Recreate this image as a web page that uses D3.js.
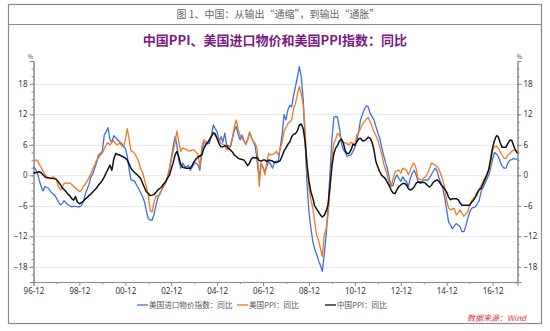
<!DOCTYPE html>
<html><head><meta charset="utf-8">
<script src="https://cdn.jsdelivr.net/npm/d3@7"></script>
<style>
body{margin:0;background:#fff;}
svg{display:block;font-family:"Noto Sans CJK SC","Noto Sans",sans-serif;}
</style></head><body>
<svg id="chart" width="550" height="331"></svg>
<script>
// Monthly year-on-year changes (%), first value = 1996-12, last value = 2018-01
const usImport = [
  1.7,
  1.2, 0.5, -0.9, -2.2, -3.1, -2.2, -2.4, -2.6, -3.2, -3.6, -3.9, -4.5,      // 1997
  -5.2, -5.8, -5.6, -5.0, -5.4, -5.8, -6.0, -6.2, -6.1, -6.1, -6.2, -6.2,    // 1998
  -6.0, -5.3, -3.9, -2.8, -1.9, -0.3, 0.2, 1.4, 2.5, 4.0, 4.3, 4.7,          // 1999
  7.9, 8.6, 9.4, 7.0, 6.5, 7.8, 7.4, 7.0, 6.6, 6.3, 5.8, 5.3,                // 2000
  3.8, 1.0, -0.9, -1.0, -1.2, -2.0, -2.6, -3.4, -4.2, -5.2, -7.0, -8.5,      // 2001
  -8.8, -8.8, -7.8, -6.0, -4.5, -3.6, -2.9, -2.2, -1.6, -0.3, 1.2, 3.3,      // 2002
  5.6, 7.6, 6.0, 3.0, 1.4, 2.4, 1.8, 1.7, 2.0, 1.0, 1.6, 2.4,                // 2003
  2.4, 2.0, 1.0, 4.5, 6.6, 6.3, 6.2, 6.3, 7.9, 9.9, 9.2, 8.6,                // 2004
  6.6, 7.6, 6.5, 8.3, 6.0, 5.8, 5.6, 7.2, 8.9, 9.6, 8.0, 7.0,                // 2005
  7.9, 6.8, 6.3, 7.0, 8.5, 7.4, 6.6, 5.6, 2.5, -0.6, 2.4, 1.5,               // 2006
  0.7, 1.8, 2.7, 2.2, 1.4, 2.6, 2.8, 2.7, 5.5, 8.0, 12.0, 10.9,              // 2007
  12.9, 13.8, 13.5, 15.8, 17.5, 19.4, 21.4, 19.4, 14.8, 6.6, -1.9, -7.2,     // 2008
  -10.5, -13.0, -14.5, -15.5, -16.7, -17.7, -18.9, -15.5, -11.8, -6.0, 0.5, 7.0, // 2009
  11.4, 11.6, 11.4, 9.2, 6.3, 5.0, 4.6, 3.7, 3.9, 4.0, 4.7, 5.5,             // 2010
  7.0, 8.6, 10.9, 12.0, 13.0, 13.7, 13.5, 12.2, 11.5, 10.9, 9.6, 8.4,        // 2011
  7.3, 5.5, 4.0, 2.6, 1.4, -0.5, -2.2, -2.0, -0.6, 0.1, -0.6, -1.2,          // 2012
  -0.3, -1.0, -1.2, -2.2, -0.6, 0.4, 1.0, 0.1, -1.2, -1.3, -1.2, -1.0,       // 2013
  -0.9, -1.0, -0.5, 0.1, 0.8, 1.4, 0.9, -0.6, -1.5, -2.6, -4.5, -6.8,        // 2014
  -9.2, -9.8, -10.5, -10.0, -9.5, -9.8, -10.1, -11.1, -11.1, -10.0, -8.5, -7.3, // 2015
  -6.5, -6.3, -6.2, -5.6, -5.0, -3.2, -2.4, -1.6, -0.7, 0.1, 1.5, 3.2,       // 2016
  4.5, 4.2, 3.7, 2.7, 1.8, 1.4, 1.4, 2.4, 3.0, 3.1, 3.3, 3.2,                // 2017
  3.2                                                                         // 2018
];
const usPPI = [
  2.6,
  3.0, 3.0, 2.2, 1.6, 0.8, 0.2, -0.3, -0.5, -0.7, -0.3, -0.4, -0.9,          // 1997
  -2.2, -2.9, -2.4, -1.6, -1.5, -1.6, -1.5, -1.8, -2.2, -2.5, -2.9, -3.2,    // 1998
  -3.0, -2.2, -1.8, -1.2, -0.5, 0.2, 1.2, 2.0, 3.0, 3.4, 4.0, 4.4,           // 1999
  5.2, 6.0, 6.4, 6.0, 6.5, 6.8, 6.2, 6.0, 6.4, 5.9, 5.5, 7.0,                // 2000
  9.2, 7.0, 4.8, 4.6, 4.3, 3.5, 2.7, 1.3, 0.6, -0.8, -2.3, -4.0,             // 2001
  -7.0, -7.2, -5.3, -4.2, -4.0, -3.9, -3.0, -2.2, -1.4, -0.6, 1.0, 3.0,      // 2002
  4.7, 6.5, 8.7, 6.6, 4.7, 5.4, 5.2, 5.1, 4.8, 4.8, 5.0, 5.0,                // 2003
  4.5, 4.2, 1.5, 5.5, 7.0, 6.8, 6.3, 7.0, 7.9, 8.3, 7.8, 7.3,                // 2004
  6.8, 6.3, 6.1, 6.0, 5.0, 5.3, 6.0, 7.4, 9.6, 10.9, 9.0, 7.9,               // 2005
  7.2, 6.8, 6.0, 6.9, 8.5, 7.4, 6.6, 6.2, 5.0, -2.2, 2.4, 1.6,               // 2006
  0.1, 2.8, 4.3, 4.0, 4.1, 4.3, 4.7, 4.0, 5.2, 6.6, 8.6, 9.4,                // 2007
  10.2, 10.5, 10.9, 13.2, 14.2, 16.0, 17.5, 16.0, 13.8, 9.0, 1.0, -2.5,      // 2008
  -4.8, -6.5, -9.1, -11.8, -12.7, -14.4, -16.0, -11.8, -10.5, -7.8, -2.6, 3.3, // 2009
  6.3, 7.2, 8.3, 7.8, 7.2, 6.5, 6.4, 6.2, 6.0, 6.5, 6.3, 6.1,                // 2010
  7.9, 8.5, 9.2, 10.0, 10.6, 11.0, 11.4, 10.6, 9.6, 8.6, 7.8, 7.0,           // 2011
  5.5, 4.2, 2.4, 1.2, 0.1, -1.8, -2.2, -0.6, 0.7, 0.9, 1.0, 0.4,             // 2012
  1.4, 1.2, 1.0, 0.1, 1.0, 2.0, 2.4, 1.4, -0.6, -0.8, -0.9, -0.5,            // 2013
  -0.3, 0.4, 1.2, 2.4, 2.2, 2.0, 1.7, 1.2, 0.1, -1.0, -2.6, -5.0,            // 2014
  -6.4, -6.8, -6.6, -6.5, -7.8, -7.4, -6.8, -7.5, -8.1, -7.6, -7.2, -5.8,    // 2015
  -5.0, -4.5, -4.2, -3.9, -2.8, -2.0, -1.2, -0.5, 0.2, 1.0, 2.2, 5.0,        // 2016
  5.6, 5.8, 5.3, 4.6, 4.0, 3.4, 3.3, 4.0, 4.3, 4.7, 4.9, 5.0,                // 2017
  4.7                                                                         // 2018
];
const cnPPI = [
  0.4,
  0.5, 0.6, 0.7, 0.5, 0.1, -0.3, -0.5, -0.5, -0.6, -0.6, -0.7, -0.8,         // 1997
  -1.3, -1.8, -2.4, -2.8, -3.2, -3.7, -4.0, -4.6, -4.9, -4.2, -5.3, -5.6,    // 1998
  -5.4, -5.1, -4.7, -4.4, -4.0, -3.7, -3.3, -2.9, -2.5, -1.9, -1.5, -1.0,    // 1999
  -0.3, 0.5, 1.2, 2.0, 1.0, 3.2, 4.3, 4.1, 4.0, 3.8, 3.6, 3.4,               // 2000
  3.0, 2.2, 1.4, 0.9, 0.5, 0.2, -0.2, -0.6, -1.5, -2.4, -3.2, -3.6,          // 2001
  -4.0, -3.9, -3.8, -3.4, -2.9, -2.6, -2.3, -1.7, -1.3, -0.6, 0.0, 1.2,      // 2002
  2.5, 4.0, 4.7, 3.6, 2.2, 1.6, 1.5, 1.4, 1.4, 1.4, 2.0, 2.7,                // 2003
  3.2, 3.6, 3.8, 4.0, 5.2, 6.0, 6.4, 7.0, 7.6, 8.4, 8.1, 7.2,                // 2004
  6.2, 5.6, 5.6, 5.8, 5.7, 5.3, 5.0, 4.6, 4.0, 3.7, 3.4, 3.2,                // 2005
  3.1, 3.0, 2.5, 1.9, 2.4, 3.3, 3.5, 3.4, 3.5, 2.9, 2.8, 3.0,                // 2006
  3.0, 2.7, 3.0, 2.9, 2.8, 2.5, 2.5, 2.7, 2.9, 3.8, 4.8, 5.4,                // 2007
  6.1, 6.6, 7.6, 8.1, 8.2, 8.8, 9.9, 10.1, 9.1, 6.6, 2.0, -1.1,              // 2008
  -3.3, -4.5, -6.0, -6.6, -7.2, -7.8, -8.2, -7.9, -7.0, -5.8, -2.1, 1.7,     // 2009
  4.3, 5.4, 5.9, 6.8, 7.1, 6.4, 4.8, 4.3, 4.3, 5.0, 6.1, 5.9,                // 2010
  6.6, 7.2, 7.3, 6.8, 6.8, 7.1, 7.5, 7.3, 6.5, 5.0, 2.7, 1.7,                // 2011
  0.7, 0.0, -0.3, -0.7, -1.4, -2.1, -2.9, -3.5, -3.6, -2.8, -2.2, -1.9,      // 2012
  -1.6, -1.6, -1.9, -2.6, -2.9, -2.7, -2.3, -1.6, -1.3, -1.5, -1.4, -1.4,    // 2013
  -1.6, -2.0, -2.3, -2.0, -1.4, -1.1, -0.9, -1.2, -1.8, -2.2, -2.7, -3.3,    // 2014
  -4.3, -4.8, -4.6, -4.6, -4.6, -4.8, -5.4, -5.9, -5.9, -5.9, -5.9, -5.9,    // 2015
  -5.3, -4.9, -4.3, -3.4, -2.8, -2.6, -1.7, -0.8, 0.1, 1.2, 3.3, 5.5,        // 2016
  6.9, 7.8, 7.6, 6.4, 5.5, 5.5, 5.5, 6.3, 6.9, 6.9, 5.8, 4.9,                // 2017
  4.3                                                                         // 2018
];

const seriesNames = ["美国进口物价指数：同比", "美国PPI：同比", "中国PPI：同比"];
const seriesColors = ["#3d6fe0", "#f07a22", "#111111"];
const yTicks = [-18, -12, -6, 0, 6, 12, 18];
const xTickYears = d3.range(1996, 2017, 2);   // labelled December ticks
const xMinorYears = d3.range(1997, 2018, 2);

const svg = d3.select("#chart");

// outer frame and caption bar
svg.append("rect").attr("x", 8.5).attr("y", 4.5).attr("width", 533).attr("height", 319)
  .attr("fill", "#fff").attr("stroke", "#8a8a8a").attr("stroke-width", 1.2);
svg.append("line").attr("x1", 8.5).attr("x2", 541.5).attr("y1", 24.5).attr("y2", 24.5)
  .attr("stroke", "#8a8a8a").attr("stroke-width", 1);
svg.append("text").attr("x", 278).attr("y", 18).attr("text-anchor", "middle")
  .attr("font-size", 10).attr("fill", "#666")
  .text("图 1、中国：从输出“通缩”，到输出“通胀”");

svg.append("text").attr("x", 275).attr("y", 45).attr("text-anchor", "middle")
  .attr("font-size", 13).attr("font-weight", "bold").attr("fill", "#7b1a82")
  .text("中国PPI、美国进口物价和美国PPI指数：同比");

const x0 = 33.5, x1 = 517.5, yTop = 61, yBot = 282;
const start = new Date(1996, 11, 1);
const dates = usImport.map((_, i) => d3.timeMonth.offset(start, i));
const x = d3.scaleTime().domain([start, dates[dates.length - 1]]).range([x0, x1]);
const y = d3.scaleLinear().domain([-21, 22.5]).range([yBot, yTop]);

// grid
svg.append("g").selectAll("line").data(yTicks).join("line")
  .attr("x1", x0).attr("x2", x1).attr("y1", d => Math.round(y(d)) + 0.5).attr("y2", d => Math.round(y(d)) + 0.5)
  .attr("stroke", "#ececec").attr("stroke-width", 1);

const axisColor = "#8a8a8a";
function styleAxis(g) {
  g.selectAll(".domain").attr("stroke", axisColor);
  g.selectAll(".tick line").attr("stroke", axisColor);
  g.selectAll(".tick text").attr("fill", "#333").attr("font-size", 8)
    .attr("font-family", "'Noto Sans','Noto Sans CJK SC',sans-serif");
}
const minorY = d3.range(-21, 22.51, 1.5);

const gl = svg.append("g").attr("transform", `translate(${x0},0)`)
  .call(d3.axisLeft(y).tickValues(yTicks).tickSize(4).tickPadding(2).tickFormat(d3.format("d")));
styleAxis(gl);
const glm = svg.append("g").attr("transform", `translate(${x0},0)`)
  .call(d3.axisLeft(y).tickValues(minorY).tickSize(2).tickFormat(""));
styleAxis(glm);

const gr = svg.append("g").attr("transform", `translate(${x1},0)`)
  .call(d3.axisRight(y).tickValues(yTicks).tickSize(4).tickPadding(2).tickFormat(d3.format("d")));
styleAxis(gr);
const grm = svg.append("g").attr("transform", `translate(${x1},0)`)
  .call(d3.axisRight(y).tickValues(minorY).tickSize(2).tickFormat(""));
styleAxis(grm);

const gx = svg.append("g").attr("transform", `translate(0,${yBot})`)
  .call(d3.axisBottom(x).tickValues(xTickYears.map(yr => new Date(yr, 11, 1)))
    .tickSize(4).tickPadding(2).tickFormat(d3.timeFormat("%y-%m")));
styleAxis(gx);
const gxm = svg.append("g").attr("transform", `translate(0,${yBot})`)
  .call(d3.axisBottom(x).tickValues(xMinorYears.map(yr => new Date(yr, 11, 1)))
    .tickSize(2).tickFormat(""));
gxm.select(".domain").remove();
styleAxis(gxm);

svg.append("text").attr("x", x0 - 3).attr("y", 59).attr("font-size", 6).attr("fill", "#444")
  .attr("text-anchor", "middle").text("%");
svg.append("text").attr("x", x1 + 2).attr("y", 59).attr("font-size", 6).attr("fill", "#444")
  .attr("text-anchor", "middle").text("%");

// series lines
const series = [usImport, usPPI, cnPPI];
const widths = [1.3, 1.3, 1.5];
const line = d3.line().x((d, i) => x(dates[i])).y(d => y(d));
series.forEach((s, k) => {
  svg.append("path").datum(s).attr("fill", "none")
    .attr("stroke", seriesColors[k]).attr("stroke-width", widths[k])
    .attr("stroke-linejoin", "round").attr("d", line);
});

// legend
const legendX = [137, 237, 325];
const legY = 305;
const lg = svg.append("g");
seriesNames.forEach((name, k) => {
  lg.append("line").attr("x1", legendX[k]).attr("x2", legendX[k] + 11)
    .attr("y1", legY).attr("y2", legY).attr("stroke", seriesColors[k]).attr("stroke-width", 1.3);
  lg.append("text").attr("x", legendX[k] + 12).attr("y", legY + 3)
    .attr("font-size", 7.6).attr("fill", "#555").text(name);
});

svg.append("text").attr("x", 526).attr("y", 321).attr("text-anchor", "end")
  .attr("font-size", 8).attr("font-style", "italic").attr("fill", "#e0343c")
  .text("数据来源：Wind");
</script>
</body></html>
